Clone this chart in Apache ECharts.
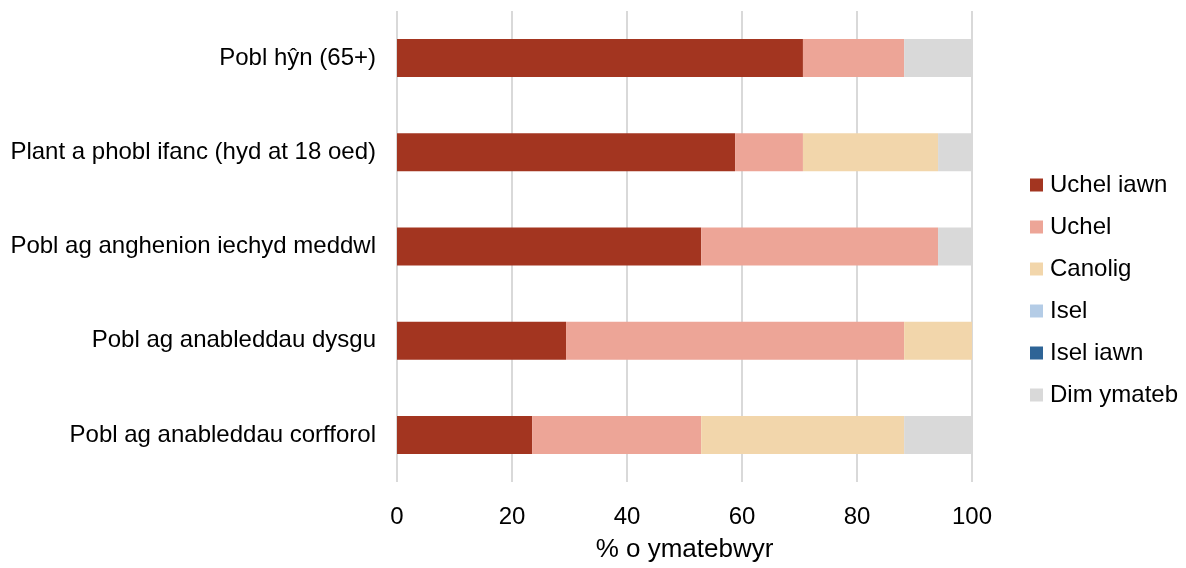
<!DOCTYPE html>
<html>
<head>
<meta charset="utf-8">
<script src="https://cdn.jsdelivr.net/npm/echarts@6/dist/echarts.min.js"></script>
<style>html,body{margin:0;padding:0;background:#fff}#c{width:1186px;height:568px}</style>
</head>
<body>
<div id="c"></div>
<script>
const categories = ["Pobl hŷn (65+)", "Plant a phobl ifanc (hyd at 18 oed)", "Pobl ag anghenion iechyd meddwl", "Pobl ag anableddau dysgu", "Pobl ag anableddau corfforol"];
const seriesNames = ["Uchel iawn", "Uchel", "Canolig", "Isel", "Isel iawn", "Dim ymateb"];
const uchelIawn = [70.6, 58.8, 52.9, 29.4, 23.5];
const uchel = [17.6, 11.8, 41.2, 58.8, 29.4];
const canolig = [0, 23.5, 0, 11.8, 35.3];
const isel = [0, 0, 0, 0, 0];
const iselIawn = [0, 0, 0, 0, 0];
const dimYmateb = [11.8, 5.9, 5.9, 0, 11.8];
const xTicks = [0, 20, 40, 60, 80, 100];
const colors = ["#A33520", "#EDA597", "#F2D6AB", "#B4CCE6", "#2E6496", "#D9D9D9"];
const values = [uchelIawn, uchel, canolig, isel, iselIawn, dimYmateb];

const chart = echarts.init(document.getElementById('c'));
const font = "Liberation Sans, Arial, sans-serif";
chart.setOption({
  animation: false,
  textStyle: {fontFamily: font},
  grid: {left: 397, right: 214, top: 11, bottom: 82, containLabel: false},
  legend: {
    orient: 'vertical', left: 1025, top: 168,
    itemWidth: 13, itemHeight: 13, itemGap: 18,
    icon: 'rect',
    textStyle: {fontSize: 24, color: '#000', fontFamily: font, padding: [0,0,0,2]},
    data: seriesNames
  },
  xAxis: {
    type: 'value', min: 0, max: 100, interval: 20,
    axisLine: {show: false}, axisTick: {show: false},
    splitLine: {lineStyle: {color: '#D9D9D9', width: 2}},
    axisLabel: {fontSize: 24, color: '#000', margin: 23, fontFamily: font,
      formatter: v => xTicks.includes(v) ? String(v) : ''},
    name: '% o ymatebwyr', nameLocation: 'middle', nameGap: 55,
    nameTextStyle: {fontSize: 26, color: '#000', fontFamily: font}
  },
  yAxis: {
    type: 'category', data: categories, inverse: true,
    axisLine: {show: false}, axisTick: {show: false},
    axisLabel: {fontSize: 24, color: '#000', margin: 21, fontFamily: font}
  },
  series: seriesNames.map((n, i) => ({
    name: n, type: 'bar', stack: 'total', barWidth: 38,
    itemStyle: {color: colors[i]},
    data: values[i]
  }))
});
</script>
</body>
</html>
